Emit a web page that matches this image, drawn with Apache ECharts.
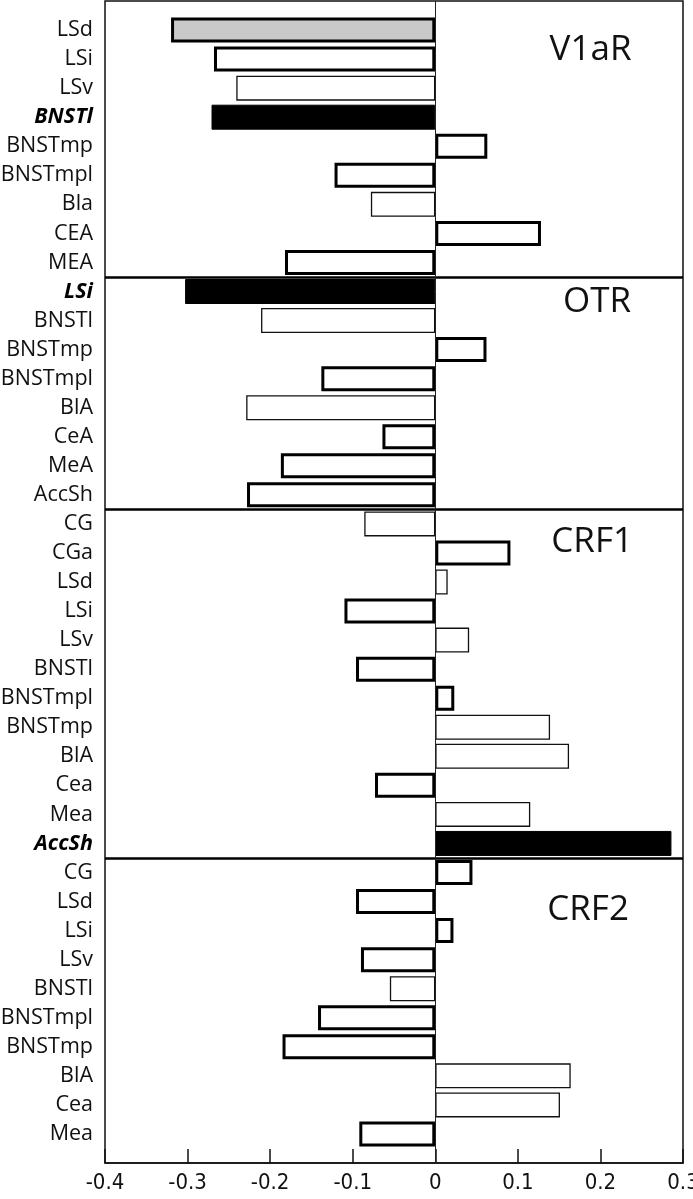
<!DOCTYPE html>
<html>
<head>
<meta charset="utf-8">
<script src="https://cdn.jsdelivr.net/npm/echarts@6/dist/echarts.min.js"></script>
<style>
html,body{margin:0;padding:0;background:#fff;overflow:hidden;}
#chart{width:693px;height:1199px;}
</style>
</head>
<body>
<div id="chart"></div>
<script>
// ---- Data ----
const panelNames = ['V1aR', 'OTR', 'CRF1', 'CRF2'];

const v1aRLabels = ['LSd', 'LSi', 'LSv', 'BNSTl', 'BNSTmp', 'BNSTmpl', 'Bla', 'CEA', 'MEA'];
const v1aRValues = [-0.320, -0.268, -0.241, -0.271, 0.063, -0.122, -0.078, 0.128, -0.182];
const v1aRKinds  = ['grey', 'thick', 'thin', 'black', 'thick', 'thick', 'thin', 'thick', 'thick'];

const otrLabels = ['LSi', 'BNSTl', 'BNSTmp', 'BNSTmpl', 'BlA', 'CeA', 'MeA', 'AccSh'];
const otrValues = [-0.303, -0.211, 0.062, -0.138, -0.229, -0.064, -0.187, -0.228];
const otrKinds  = ['black', 'thin', 'thick', 'thick', 'thin', 'thick', 'thick', 'thick'];

const crf1Labels = ['CG', 'CGa', 'LSd', 'LSi', 'LSv', 'BNSTl', 'BNSTmpl', 'BNSTmp', 'BlA', 'Cea', 'Mea', 'AccSh'];
const crf1Values = [-0.086, 0.091, 0.015, -0.110, 0.041, -0.096, 0.023, 0.139, 0.162, -0.073, 0.115, 0.286];
const crf1Kinds  = ['thin', 'thick', 'thin', 'thick', 'thin', 'thick', 'thick', 'thin', 'thin', 'thick', 'thin', 'black'];

const crf2Labels = ['CG', 'LSd', 'LSi', 'LSv', 'BNSTl', 'BNSTmpl', 'BNSTmp', 'BlA', 'Cea', 'Mea'];
const crf2Values = [0.045, -0.096, 0.022, -0.090, -0.055, -0.142, -0.185, 0.164, 0.151, -0.092];
const crf2Kinds  = ['thick', 'thick', 'thick', 'thick', 'thin', 'thick', 'thick', 'thin', 'thin', 'thick'];

const xTicks = [-0.4, -0.3, -0.2, -0.1, 0, 0.1, 0.2, 0.3];

// ---- Build ----
const groups = [
  [v1aRLabels, v1aRValues, v1aRKinds],
  [otrLabels, otrValues, otrKinds],
  [crf1Labels, crf1Values, crf1Kinds],
  [crf2Labels, crf2Values, crf2Kinds]
];
const categories = [''];
const values = [null];
const kinds = [null];
const separators = [];
groups.forEach((g, gi) => {
  if (gi > 0) separators.push(categories.length - 0.5);
  g[0].forEach((l, i) => { categories.push(l); values.push(g[1][i]); kinds.push(g[2][i]); });
});
categories.push(''); values.push(null); kinds.push(null);
const nSlots = categories.length - 1;

const styleFor = {
  grey:  { color: '#c9c9c9', borderColor: '#000', borderWidth: 3 },
  black: { color: '#000', borderColor: '#000', borderWidth: 1 },
  thick: { color: '#fff', borderColor: '#000', borderWidth: 3 },
  thin:  { color: '#fff', borderColor: '#111', borderWidth: 1.3 }
};
const barData = values.map((v, i) => v === null ? '-' : ({ value: v, itemStyle: styleFor[kinds[i]] }));

const chart = echarts.init(document.getElementById('chart'), null, { renderer: 'canvas' });
const labelFont = "'Open Sans', 'Noto Sans', sans-serif";
const tickFont = "'Liberation Sans Narrow', 'DejaVu Sans Condensed', 'Liberation Sans', sans-serif";

chart.setOption({
  animation: false,
  backgroundColor: '#fff',
  grid: {
    left: 105, right: 10, top: 1, bottom: 36, containLabel: false, outerBoundsMode: 'none',
    show: true, borderColor: '#111', borderWidth: 1.5, backgroundColor: 'transparent'
  },
  xAxis: {
    type: 'value', min: xTicks[0], max: xTicks[xTicks.length - 1], interval: 0.1,
    axisLine: { show: true, onZero: false, lineStyle: { color: '#111', width: 1.5 } },
    axisTick: { show: true, inside: true, length: 14, lineStyle: { color: '#111', width: 1.5 } },
    splitLine: { show: false },
    axisLabel: {
      margin: 9, color: '#111', fontFamily: tickFont, fontSize: 22, hideOverlap: false,
      showMinLabel: true, showMaxLabel: true,
      formatter: v => (Math.abs(v) < 1e-9 ? '0' : v.toFixed(1))
    }
  },
  yAxis: [
    {
      type: 'category', data: categories, inverse: true, boundaryGap: false,
      axisLine: { show: false }, axisTick: { show: false }, splitLine: { show: false },
      axisLabel: {
        margin: 12, color: '#111', fontFamily: labelFont, fontSize: 21.5, interval: 0,
        formatter: (v, i) => (kinds[i] === 'black' ? '{b|' + v + '}' : v),
        rich: { b: { fontFamily: labelFont, fontSize: 21.5, fontWeight: 'bold', fontStyle: 'italic', color: '#000' } }
      }
    },
    { type: 'value', min: 0, max: nSlots, inverse: true, show: false }
  ],
  series: [
    {
      type: 'bar', xAxisIndex: 0, yAxisIndex: 0, barWidth: 25,
      data: barData, silent: true
    },
    {
      type: 'line', xAxisIndex: 0, yAxisIndex: 1, data: [], silent: true,
      markLine: {
        symbol: 'none', silent: true, label: { show: false },
        data: separators.map(s => ({ yAxis: s, lineStyle: { color: '#000', width: 2.5, type: 'solid' } }))
          .concat([{ xAxis: 0, lineStyle: { color: '#222', width: 1, type: 'solid' } }])
      },
      markPoint: {
        symbol: 'circle', symbolSize: 0, silent: true,
        label: { show: true, position: 'inside', color: '#111', fontFamily: labelFont, fontSize: 35, formatter: p => p.name },
        data: [
          { name: panelNames[0], coord: [0.188, 1.69] },
          { name: panelNames[1], coord: [0.196, 10.36] },
          { name: panelNames[2], coord: [0.190, 18.62] },
          { name: panelNames[3], coord: [0.185, 31.3] }
        ]
      }
    }
  ]
});
</script>
</body>
</html>
